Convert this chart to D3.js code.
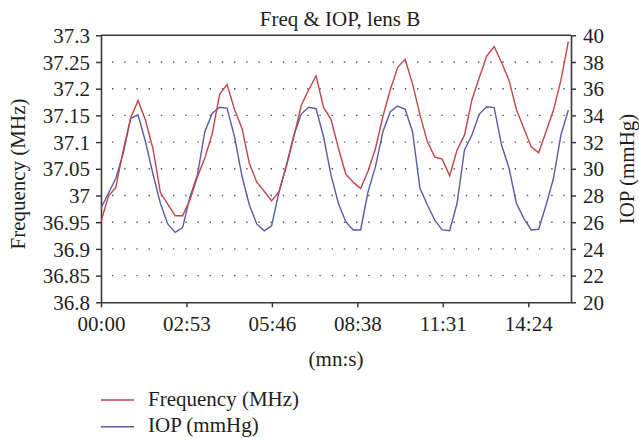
<!DOCTYPE html>
<html><head><meta charset="utf-8">
<script src="https://cdn.jsdelivr.net/npm/d3@7"></script>
<style>body{margin:0;background:#fff}svg{display:block}text{font-family:"Liberation Serif","Times New Roman",serif;fill:#231f20}</style>
</head><body><svg id="c" width="639" height="438"></svg>
<script>
// time in seconds, 15 s sampling
const times = d3.range(64).map(i => i * 15);
const freq = [36.951,36.999,37.015,37.085,37.145,37.178,37.141,37.088,37.006,36.984,
36.962,36.962,36.992,37.035,37.070,37.116,37.190,37.208,37.161,37.126,
37.060,37.025,37.008,36.990,37.007,37.055,37.110,37.169,37.198,37.224,
37.165,37.143,37.089,37.040,37.025,37.013,37.046,37.088,37.148,37.198,
37.240,37.255,37.209,37.151,37.101,37.072,37.068,37.037,37.085,37.113,
37.179,37.221,37.261,37.279,37.249,37.216,37.161,37.126,37.091,37.080,
37.120,37.160,37.216,37.288];
const iop = [27.04,28.17,29.29,31.16,33.78,34.03,32.03,29.61,27.42,25.87,
25.24,25.59,27.91,29.54,32.78,34.16,34.61,34.53,32.40,29.46,
27.29,25.87,25.36,25.72,28.28,30.28,32.53,34.10,34.61,34.50,
32.40,29.54,27.42,26.04,25.42,25.42,28.28,30.16,32.78,34.28,
34.70,34.46,32.78,28.54,27.29,26.16,25.42,25.36,27.42,31.41,
32.53,34.10,34.65,34.58,31.78,30.06,27.42,26.29,25.42,25.47,
27.29,29.29,32.53,34.40];
const xTickVals = [0, 172.8, 345.6, 518.4, 691.2, 864];
const xTickLabels = ["00:00","02:53","05:46","08:38","11:31","14:24"];
const leftTicks = [36.8,36.85,36.9,36.95,37,37.05,37.1,37.15,37.2,37.25,37.3];
const rightTicks = [20,22,24,26,28,30,32,34,36,38,40];
const seriesNames = ["Frequency (MHz)", "IOP (mmHg)"];
const colors = ["#c0454a", "#5b5ba3"];

const svg = d3.select("#c");
const L = 101, R = 571, T = 35.3, B = 302.3;
const x = d3.scaleLinear().domain([0, 950.4]).range([L, R]);
const yL = d3.scaleLinear().domain([36.8, 37.3]).range([B, T]);
const yR = d3.scaleLinear().domain([20, 40]).range([B, T]);
const axisColor = "#3a3a3a";
const fs = "21px";

// gridlines (dotted)
svg.append("g").selectAll("line").data(leftTicks.filter(v => v > 36.81 && v < 37.29)).join("line")
  .attr("x1", L).attr("x2", R).attr("y1", d => yL(d)).attr("y2", d => yL(d))
  .attr("stroke", "#555").attr("stroke-width", 1.4).attr("stroke-dasharray", "1.4,10.8").attr("stroke-dashoffset", -11);

// top border
svg.append("line").attr("x1", L).attr("x2", R).attr("y1", T).attr("y2", T).attr("stroke", axisColor).attr("stroke-width", 1.5);

function styleAxis(g){
  g.selectAll("path,line").attr("stroke", axisColor).attr("stroke-width", 1.5);
  g.select(".domain").attr("stroke-width", 1.6);
  g.selectAll("text").attr("font-size", fs).attr("fill", "#231f20");
}
const gl = svg.append("g").attr("transform", `translate(${L},0)`)
  .call(d3.axisLeft(yL).tickValues(leftTicks).tickFormat(d => d3.format("")(+d.toFixed(2))).tickSizeInner(5).tickSizeOuter(0).tickPadding(6));
styleAxis(gl); gl.selectAll("text").attr("dy", "0.34em");
const gr = svg.append("g").attr("transform", `translate(${R},0)`)
  .call(d3.axisRight(yR).tickValues(rightTicks).tickSizeInner(5).tickSizeOuter(0).tickPadding(7));
styleAxis(gr); gr.selectAll("text").attr("dy", "0.34em");
const gb = svg.append("g").attr("transform", `translate(0,${B})`)
  .call(d3.axisBottom(x).tickValues(xTickVals).tickFormat((d, i) => xTickLabels[i]).tickSizeInner(5).tickSizeOuter(0).tickPadding(9));
styleAxis(gb);

// lines
const lineF = d3.line().x((d, i) => x(times[i])).y(d => yL(d));
const lineI = d3.line().x((d, i) => x(times[i])).y(d => yR(d));
svg.append("path").datum(iop).attr("d", lineI).attr("fill", "none").attr("stroke", colors[1]).attr("stroke-width", 1.4);
svg.append("path").datum(freq).attr("d", lineF).attr("fill", "none").attr("stroke", colors[0]).attr("stroke-width", 1.4);

// titles
svg.append("text").attr("x", 340).attr("y", 25.5).attr("text-anchor", "middle").attr("font-size", fs).text("Freq & IOP, lens B");
svg.append("text").attr("x", 336).attr("y", 366).attr("text-anchor", "middle").attr("font-size", fs).text("(mn:s)");
svg.append("text").attr("transform", "translate(25,174) rotate(-90)").attr("text-anchor", "middle").attr("font-size", fs).text("Frequency (MHz)");
svg.append("text").attr("transform", "translate(634,169) rotate(-90)").attr("text-anchor", "middle").attr("font-size", fs).text("IOP (mmHg)");

// legend
const lg = svg.append("g").selectAll("g").data(seriesNames).join("g")
  .attr("transform", (d, i) => `translate(101,${400 + i * 26.7})`);
lg.append("line").attr("x1", 0).attr("x2", 33).attr("stroke", (d, i) => colors[i]).attr("stroke-width", 1.4);
lg.append("text").attr("x", 47).attr("y", 3.5).attr("dy", "0.1em").attr("font-size", fs).text(d => d);
</script></body></html>
